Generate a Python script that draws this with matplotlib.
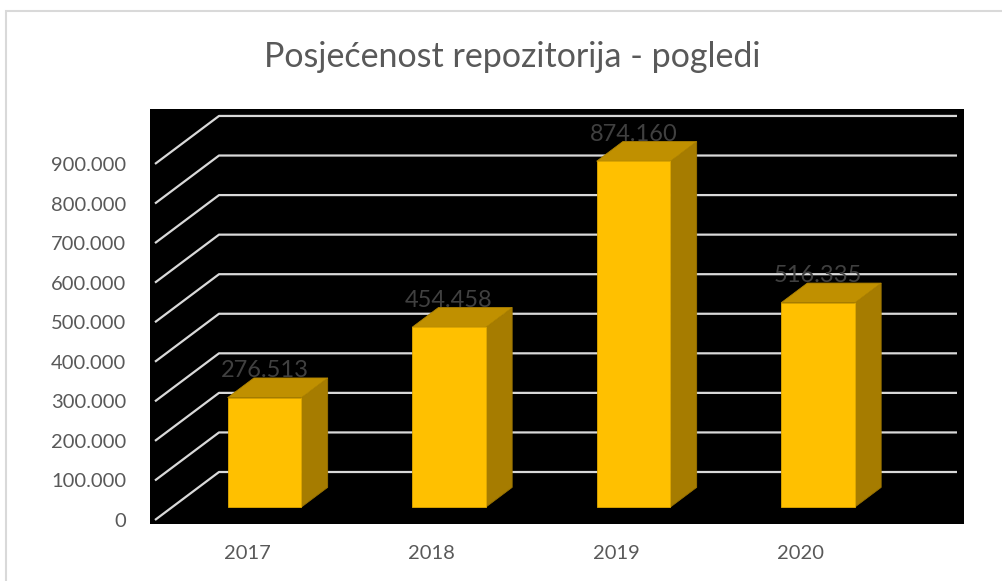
import matplotlib.pyplot as plt
from matplotlib.patches import Polygon, Rectangle
from matplotlib.ticker import FuncFormatter

years = ['2017', '2018', '2019', '2020']
views = [276513, 454458, 874160, 516335]
yticks = list(range(0, 1000000, 100000))

# pseudo 3d: depth offset in data units, bars sit between depth d0 and d1
DX = 64 / 184.5
DY = 48 / 0.0003956
d0, d1 = 0.27, 0.68
bw = 0.4


def proj(x, v, d):
    return x + d * DX, v + d * DY


def fmt(v, pos=None):
    return f'{int(v):,}'.replace(',', '.')


plt.rcParams['font.family'] = ['Lato', 'DejaVu Sans']

fig = plt.figure(figsize=(10.03, 5.81), dpi=100)
W, H = 1003, 581
fig.patches.append(Rectangle((6 / W, -0.1), 1.2, 1 - 11 / H + 0.1, transform=fig.transFigure,
                             fill=False, edgecolor='#D9D9D9', lw=1.5))

ax = fig.add_axes([150 / W, 1 - 524 / H, 814 / W, 415 / H])
ax.set_facecolor('black')
ax.set_xlim(-0.5 - 5 / 184.5, -0.5 + 809 / 184.5)
ax.set_ylim(-4 / 0.0003956, 411 / 0.0003956)
for s in ax.spines.values():
    s.set_visible(False)

# gridlines: diagonal on the side wall, then along the back wall
for v in yticks:
    p0 = proj(-0.5, v, 0)
    p1 = proj(-0.5, v, 1)
    p2 = proj(len(years) - 0.5, v, 1)
    ax.plot([p0[0], p1[0], p2[0]], [p0[1], p1[1], p2[1]], color='#D9D9D9', lw=1.6,
            solid_capstyle='butt', zorder=1)

for i, v in enumerate(views):
    x0, x1 = i - bw / 2, i + bw / 2
    front = [proj(x0, 0, d0), proj(x1, 0, d0), proj(x1, v, d0), proj(x0, v, d0)]
    top = [proj(x0, v, d0), proj(x1, v, d0), proj(x1, v, d1), proj(x0, v, d1)]
    side = [proj(x1, 0, d0), proj(x1, 0, d1), proj(x1, v, d1), proj(x1, v, d0)]
    ax.add_patch(Polygon(side, closed=True, facecolor='#A67C00', edgecolor='#9A7300', lw=0.6, zorder=3))
    ax.add_patch(Polygon(top, closed=True, facecolor='#C09000', edgecolor='#B08400', lw=0.6, zorder=3))
    ax.add_patch(Polygon(front, closed=True, facecolor='#FFC000', edgecolor='#E0A800', lw=0.6, zorder=4))
    ax.text(proj(i, 0, d0)[0], proj(i, v, d1)[1] + 2500, fmt(v), ha='center', va='baseline',
            fontsize=17, color='#404040', zorder=5)

ax.set_yticks(yticks)
ax.yaxis.set_major_formatter(FuncFormatter(fmt))
ax.set_xticks(range(len(years)))
ax.set_xticklabels(years)
ax.tick_params(axis='y', length=0, pad=17, labelsize=14.5, labelcolor='#595959')
ax.tick_params(axis='x', length=0, pad=15, labelsize=14.5, labelcolor='#595959')

fig.text(512 / W, 1 - 57 / H, 'Posjećenost repozitorija - pogledi', ha='center', va='center',
         fontsize=24.5, color='#595959')

fig.savefig('out.png', dpi=100)
